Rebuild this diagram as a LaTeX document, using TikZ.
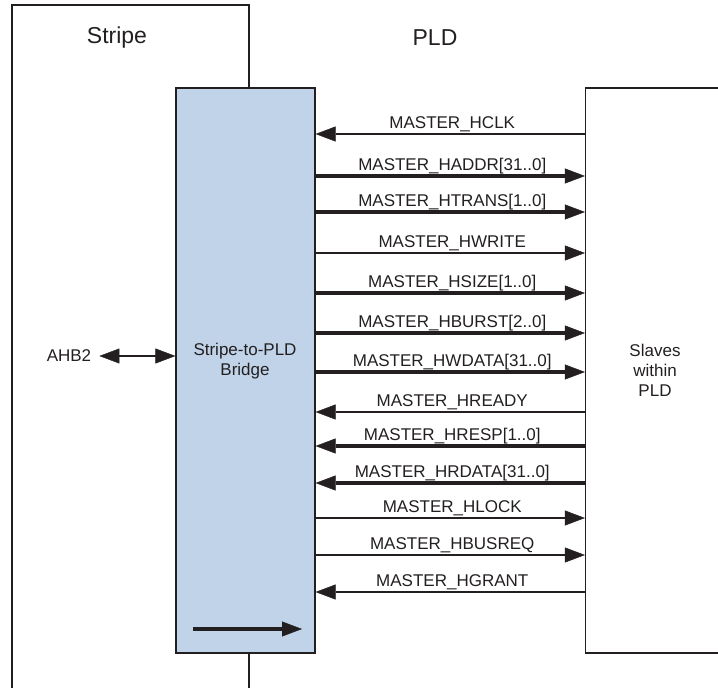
\documentclass[tikz,border=0pt]{standalone}
\usepackage{fontspec}
\setmainfont{Liberation Sans}
\usepackage{xcolor}
\usetikzlibrary{arrows.meta,positioning}
\definecolor{bridgeblue}{RGB}{192,211,232}
\definecolor{ink}{RGB}{35,31,32}

\begin{document}
\begin{tikzpicture}[x=1pt, y=-1pt,
  region/.style={draw=ink, line width=1.2pt, inner sep=0pt},
  tip/.style={Triangle[length=20pt, width=15pt, line width=0.4pt]},
  sig/.style={-{Triangle[length=20pt, width=15pt, line width=0.4pt]}, draw=ink, fill=ink, line width=1.2pt},
  bus/.style={sig, line width=4pt},
  txt/.style={font=\fontsize{17}{20}\selectfont, text=ink, align=center, inner sep=0pt},
  ttl/.style={font=\fontsize{23}{27}\selectfont, text=ink, inner sep=0pt},
  lb/.style={txt, anchor=base, yshift=6pt, xshift=2pt}
]
\useasboundingbox (0,0) rectangle (718,688);

% regions
\node[region, minimum width=237pt, minimum height=700pt] (stripe) at (130.5,355) {};
\node[region, fill=bridgeblue, minimum width=139pt, minimum height=565pt] (bridge) at (245.5,370.5) {};
\node[region, txt, minimum width=139pt, minimum height=565pt] (slaves) at (655,370.5) {Slaves\\within\\PLD};

\node[ttl] (stripettl) at (117,38) {Stripe};
\node[ttl] (pldttl) at (435,38) {PLD};
\node[txt] (brtxt) at (245,361) {Stripe-to-PLD\\Bridge};
\node[txt] (ahb) at (69,356) {AHB2};

\draw[{Triangle[length=20pt, width=15pt, line width=0.4pt]}-{Triangle[length=20pt, width=15pt, line width=0.4pt]}, draw=ink, fill=ink, line width=1.2pt, shorten <=8pt] (ahb.east) -- (bridge.west |- ahb.east);

% signals to and from the slaves
\draw[sig] (slaves.west |- 0,134) -- node[lb] {MASTER\_HCLK} (bridge.east |- 0,134);
\draw[bus] (bridge.east |- 0,176) -- node[lb] {MASTER\_HADDR[31..0]} (slaves.west |- 0,176);
\draw[bus] (bridge.east |- 0,212) -- node[lb] {MASTER\_HTRANS[1..0]} (slaves.west |- 0,212);
\draw[sig] (bridge.east |- 0,253) -- node[lb] {MASTER\_HWRITE} (slaves.west |- 0,253);
\draw[bus] (bridge.east |- 0,293) -- node[lb] {MASTER\_HSIZE[1..0]} (slaves.west |- 0,293);
\draw[bus] (bridge.east |- 0,333) -- node[lb] {MASTER\_HBURST[2..0]} (slaves.west |- 0,333);
\draw[bus] (bridge.east |- 0,372) -- node[lb] {MASTER\_HWDATA[31..0]} (slaves.west |- 0,372);
\draw[sig] (slaves.west |- 0,412) -- node[lb] {MASTER\_HREADY} (bridge.east |- 0,412);
\draw[bus] (slaves.west |- 0,446) -- node[lb] {MASTER\_HRESP[1..0]} (bridge.east |- 0,446);
\draw[bus] (slaves.west |- 0,483) -- node[lb] {MASTER\_HRDATA[31..0]} (bridge.east |- 0,483);
\draw[sig] (bridge.east |- 0,518) -- node[lb] {MASTER\_HLOCK} (slaves.west |- 0,518);
\draw[sig] (bridge.east |- 0,555) -- node[lb] {MASTER\_HBUSREQ} (slaves.west |- 0,555);
\draw[sig] (slaves.west |- 0,592) -- node[lb] {MASTER\_HGRANT} (bridge.east |- 0,592);

% direction arrow inside the bridge
\coordinate (dirA) at (193,629);
\coordinate (dirB) at (302,629);
\draw[bus] (dirA) -- (dirB);
\end{tikzpicture}
\end{document}
